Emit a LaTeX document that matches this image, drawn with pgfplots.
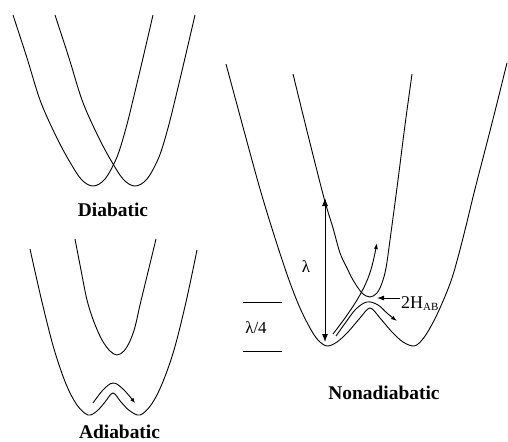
\documentclass[border=0pt]{standalone}
\usepackage{pgfplots}
\pgfplotsset{compat=1.18}
\usepackage{fontspec}
\setmainfont{Liberation Serif}
\usetikzlibrary{arrows.meta}
\begin{document}
\begin{tikzpicture}
\useasboundingbox (0,0) rectangle (508bp,442bp);
\begin{axis}[
  at={(0,0)}, anchor=south west,
  scale only axis, width=508bp, height=442bp,
  xmin=0, xmax=508, ymin=0, ymax=442, y dir=reverse,
  hide axis, clip=false,
  every axis plot post/.append style={black, line width=0.9bp, mark=none},
]
% ---------- Diabatic ----------
\addplot[smooth, tension=0.55] coordinates {(13,15) (27,58) (40,100) (54,132) (67,157) (81,179) (93,186) (105,179) (117,157) (126,128) (133,100) (143,58) (153,15)};
\addplot[smooth, tension=0.55] coordinates {(55,15) (69,58) (82,100) (96,132) (109,157) (123,179) (135,186) (147,179) (159,157) (168,128) (175,100) (185,58) (195,15)};
% ---------- Adiabatic ----------
\addplot[smooth, tension=0.55] coordinates {(30,249) (42,302) (54,349) (66,384) (77,405) (88,415) (97,411) (105,402) (113,393) (121,402) (130,411) (140,415) (151,405) (162,384) (174,350) (186,302) (197,250)};
\addplot[smooth, tension=0.55] coordinates {(75,239) (81,270) (87,300) (94,322) (102,340) (110,351) (117,355) (124,351) (130,341) (135,327) (140,305) (148,272) (156,239)};
\addplot[smooth, tension=0.6, -{Latex[length=5bp,width=4bp]}] coordinates {(93,403) (103,390) (113,383) (123,389) (135,403)};
% ---------- Nonadiabatic ----------
\addplot[smooth, tension=0.55] coordinates {(226,64) (243,127) (260,189) (275,238) (289,280) (300,308) (310,328) (318,340) (327,346) (337,342) (348,332) (360,318) (370,308) (380,318) (392,332) (403,342) (414,346) (422,340) (430,328) (440,308) (452,278) (463,238) (475,189) (491,127) (507,63)};
\addplot[smooth, tension=0.55] coordinates {(293,74) (308,135) (324,198) (333,228) (340,253) (347,268) (353,280) (362,293) (370,297) (377,293) (382,283) (386,268) (390,240) (398,180) (405,125) (412,74)};
% lambda arrow
\addplot[{Latex[length=8bp,width=6bp]}-{Latex[length=8bp,width=6bp]}, line width=1.1bp] coordinates {(325,198) (325,342)};
% lambda/4 lines
\addplot[line width=1bp] coordinates {(243,302) (282,302)};
\addplot[line width=1bp] coordinates {(243,351) (282,351)};
% 2H_AB arrow
\addplot[-{Latex[length=7bp,width=5bp]}, line width=1bp] coordinates {(400,298) (377,298)};
% trajectories
\addplot[smooth, tension=0.6, -{Latex[length=6bp,width=4bp]}] coordinates {(333,334) (345,318) (357,300) (366,283) (372,266) (377,243)};
\addplot[smooth, tension=0.6, -{Latex[length=6bp,width=4bp]}] coordinates {(336,336) (346,322) (356,309) (367,302) (378,305) (388,314) (397,321)};
% ---------- Labels ----------
\node[anchor=base, font=\bfseries\fontsize{19.5}{20}\selectfont] at (axis cs:113,216.5) {Diabatic};
\node[anchor=base, font=\bfseries\fontsize{19.5}{20}\selectfont] at (axis cs:119.5,438) {Adiabatic};
\node[anchor=base, font=\bfseries\fontsize{19.5}{20}\selectfont] at (axis cs:384,399) {Nonadiabatic};
\node[font=\fontsize{17}{18}\selectfont] at (axis cs:306,267) {λ};
\node[font=\fontsize{17}{18}\selectfont] at (axis cs:256,328) {λ/4};
\node[anchor=base west, inner xsep=0pt, font=\fontsize{18}{19}\selectfont] at (axis cs:401,308) {2H\raisebox{-2bp}{\fontsize{11}{12}\selectfont AB}};
\end{axis}
\end{tikzpicture}
\end{document}
